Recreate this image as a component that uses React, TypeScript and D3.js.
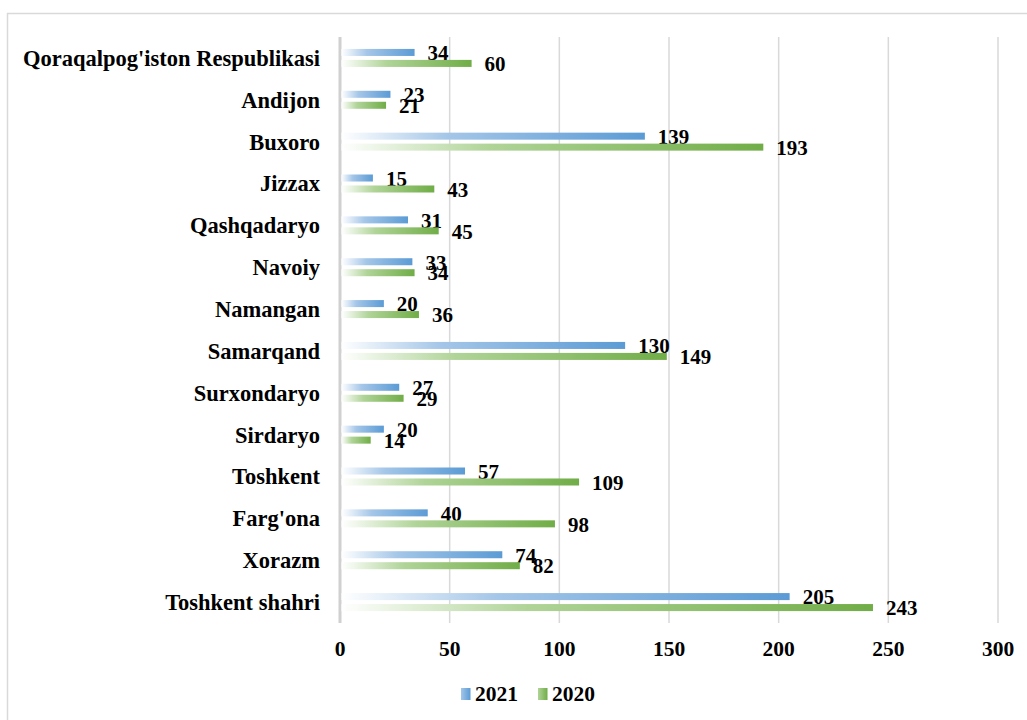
import React from 'react';
import * as d3 from 'd3';

const regions = [
  "Qoraqalpog'iston Respublikasi", 'Andijon', 'Buxoro', 'Jizzax', 'Qashqadaryo', 'Navoiy',
  'Namangan', 'Samarqand', 'Surxondaryo', 'Sirdaryo', 'Toshkent', "Farg'ona", 'Xorazm', 'Toshkent shahri',
];
const values2021 = [34, 23, 139, 15, 31, 33, 20, 130, 27, 20, 57, 40, 74, 205];
const values2020 = [60, 21, 193, 43, 45, 34, 36, 149, 29, 14, 109, 98, 82, 243];
const xTicks = [0, 50, 100, 150, 200, 250, 300];

const series = [
  { key: '2021', values: values2021, color: '#5b9bd5', mid: '#a4c6e8', id: 'gBlue' },
  { key: '2020', values: values2020, color: '#70ad47', mid: '#b0d498', id: 'gGreen' },
];

export default function App() {
  const width = 1027;
  const height = 720;
  const font = "'Liberation Serif', 'Times New Roman', serif";

  // plot area
  const left = 340;
  const right = 998;
  const top = 37;
  const bottom = 623;

  const x = d3.scaleLinear().domain([0, 300]).range([left, right]);
  const y0 = d3.scaleBand<string>().domain(regions).range([top, bottom]).paddingInner(0.57).paddingOuter(0.285);
  const y1 = d3.scaleBand<string>().domain(series.map(s => s.key)).range([0, y0.bandwidth()]).paddingInner(0.36);

  return (
    <svg width={width} height={height} style={{ position: 'absolute', left: 0, top: 0, background: '#fff', fontFamily: font }}>
      <defs>
        {series.map(s => (
          <linearGradient key={s.id} id={s.id} x1="0" x2="1" y1="0" y2="0">
            <stop offset="0%" stopColor="#ffffff" />
            <stop offset="35%" stopColor={s.mid} />
            <stop offset="100%" stopColor={s.color} />
          </linearGradient>
        ))}
        {series.map(s => (
          <linearGradient key={s.id + 'L'} id={s.id + 'L'} x1="0" x2="1" y1="0" y2="0">
            <stop offset="0%" stopColor={s.mid} />
            <stop offset="100%" stopColor={s.color} />
          </linearGradient>
        ))}
      </defs>

      {/* chart frame */}
      <rect x={7.5} y={13.5} width={1040} height={720} fill="none" stroke="#d9d9d9" strokeWidth={1.5} />

      {/* gridlines */}
      {xTicks.map(t => (
        <line
          key={t}
          x1={x(t)}
          x2={x(t)}
          y1={top}
          y2={bottom}
          stroke={t === 0 ? '#d0d0d0' : '#d9d9d9'}
          strokeWidth={t === 0 ? 3 : 1.5}
        />
      ))}

      {/* bars */}
      {regions.map((r, i) => (
        <g key={r} transform={`translate(0, ${y0(r)})`}>
          {series.map(s => {
            const v = s.values[i];
            const by = y1(s.key)!;
            const bh = y1.bandwidth();
            return (
              <g key={s.key}>
                <rect x={x(0) + 1.5} y={by} width={x(v) - x(0) - 1.5} height={bh} fill={`url(#${s.id})`} />
                <text
                  x={x(v) + 13}
                  y={by + bh / 2 + 7.8}
                  fontSize={21}
                  fontWeight="bold"
                  fill="#000"
                >
                  {v}
                </text>
              </g>
            );
          })}
          <text
            x={320}
            y={y0.bandwidth() / 2}
            dy="0.35em"
            textAnchor="end"
            fontSize={22.5}
            fontWeight="bold"
            fill="#000"
          >
            {r}
          </text>
        </g>
      ))}

      {/* x axis labels */}
      {xTicks.map(t => (
        <text key={t} x={x(t)} y={656} textAnchor="middle" fontSize={21.5} fontWeight="bold" fill="#000">
          {t}
        </text>
      ))}

      {/* legend */}
      {series.map((s, i) => {
        const lx = 461 + i * 77;
        return (
          <g key={s.key}>
            <rect x={lx} y={688} width={9.5} height={12} fill={`url(#${s.id}L)`} />
            <text x={lx + 14} y={700.5} fontSize={21.5} fontWeight="bold" fill="#000">
              {s.key}
            </text>
          </g>
        );
      })}
    </svg>
  );
}
